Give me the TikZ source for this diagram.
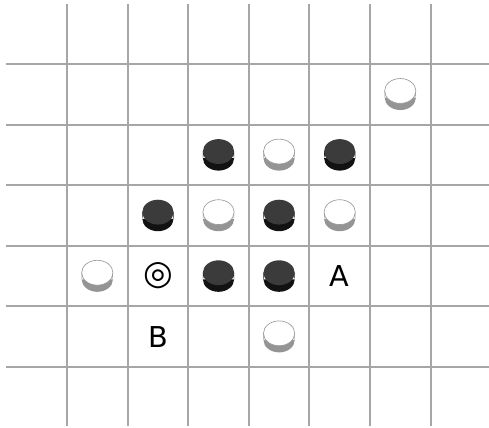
\documentclass[tikz,border=0pt]{standalone}
\usepackage{fontspec}
\setmainfont{DejaVu Sans}
\begin{document}
\begin{tikzpicture}[font=\fontsize{13.5pt}{16pt}\selectfont,
  gridline/.style={black!35, line width=0.9pt},
  bstone/.pic={
    \fill[black!93] (-0.258,-0.055) rectangle (0.258,0.055) (0,-0.055) ellipse (0.258 and 0.205);
    \fill[black!77] (0,0.055) ellipse (0.258 and 0.205);
  },
  wstone/.pic={
    \fill[black!42] (-0.258,-0.055) rectangle (0.258,0.055) (0,-0.055) ellipse (0.258 and 0.205);
    \filldraw[fill=white, draw=black!40, line width=0.3pt] (0,0.055) ellipse (0.258 and 0.205);
  },
  label/.style={inner sep=0pt}
]
  \useasboundingbox (-1.106,-1.007) rectangle (6.964,6.056);
  % board
  \foreach \x in {0,...,6}
    \draw[gridline] (\x,-0.97) -- (\x,5.99);
  \foreach \y in {0,...,5}
    \draw[gridline] (-1.0,\y) -- (7.1,\y);
  % stones
  \pic at (5.5,4.5) {wstone};
  \pic at (2.5,3.5) {bstone};
  \pic at (3.5,3.5) {wstone};
  \pic at (4.5,3.5) {bstone};
  \pic at (1.5,2.5) {bstone};
  \pic at (2.5,2.5) {wstone};
  \pic at (3.5,2.5) {bstone};
  \pic at (4.5,2.5) {wstone};
  \pic at (0.5,1.5) {wstone};
  \pic at (2.5,1.5) {bstone};
  \pic at (3.5,1.5) {bstone};
  \pic at (3.5,0.5) {wstone};
  % marks
  \node[label, font=\fontsize{16pt}{18pt}\selectfont] (mark) at (1.5,1.5) {◎};
  \node[label] (ptA)  at (4.5,1.5) {A};
  \node[label] (ptB)  at (1.5,0.5) {B};
\end{tikzpicture}
\end{document}
